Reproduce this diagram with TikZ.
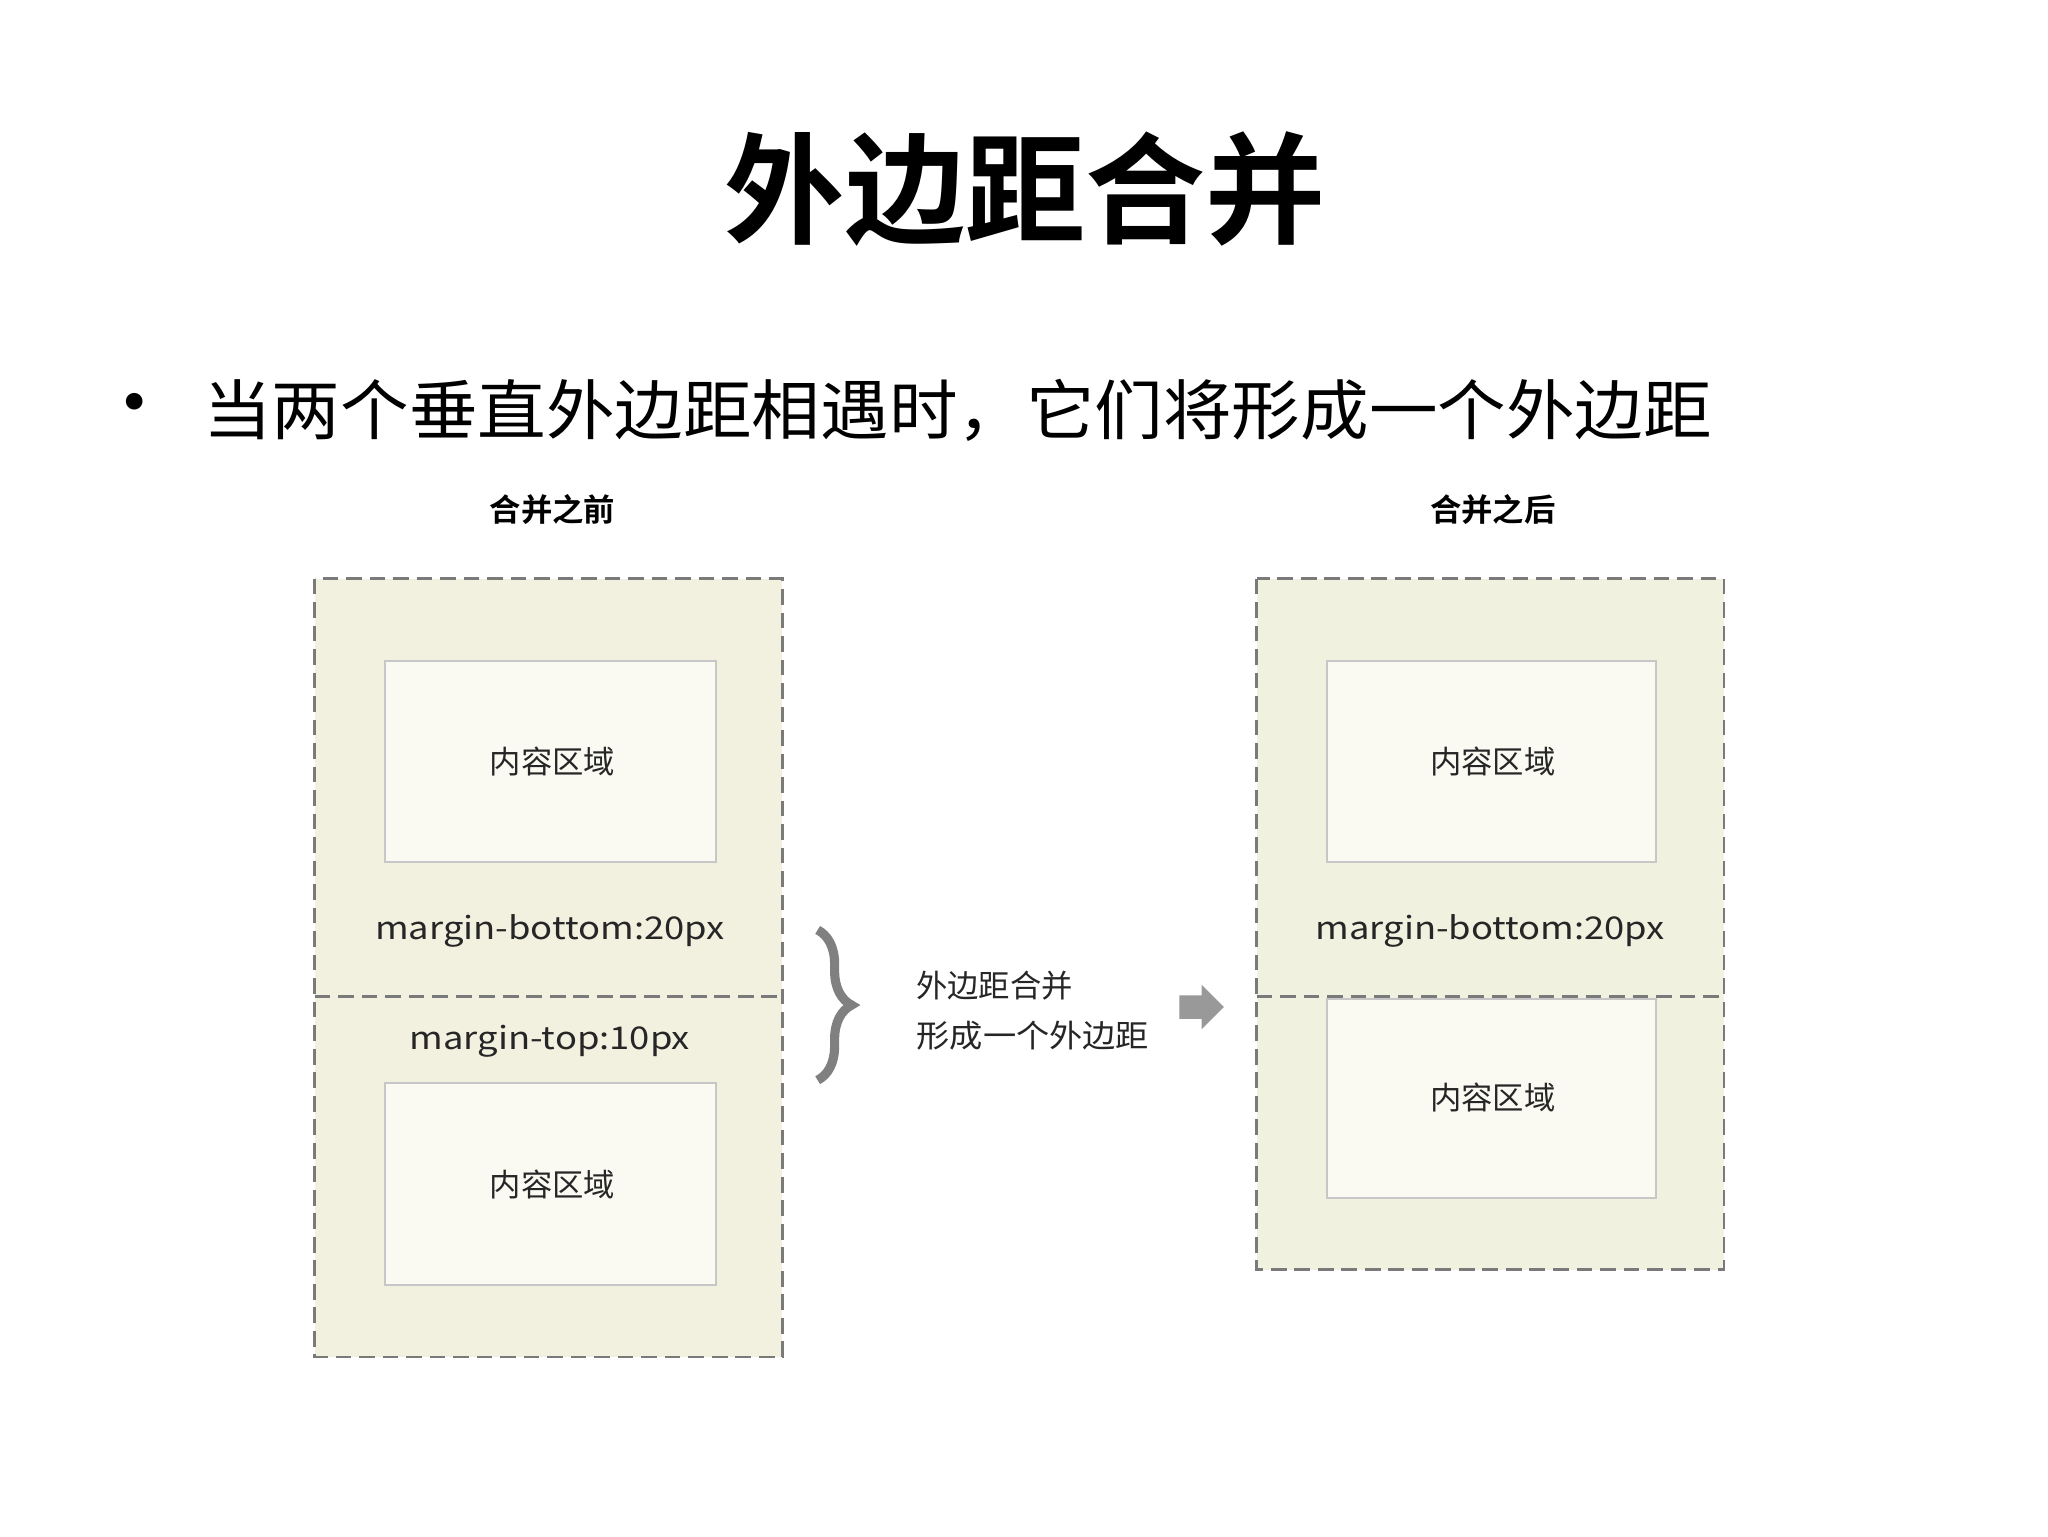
\documentclass[tikz,border=0pt]{standalone}
\usepackage{fontspec}
\setmainfont{Noto Sans CJK SC}
\newfontfamily\cjkb{Noto Sans CJK SC Bold}
\usetikzlibrary{decorations.pathreplacing,arrows.meta}
\definecolor{outerfill}{HTML}{F2F0DF}
\definecolor{outerfillR}{HTML}{F0F1DE}
\definecolor{innerfill}{HTML}{FAFAF3}
\definecolor{dash}{HTML}{7A7A7A}
\tikzset{
 outerbox/.style={draw=dash,line width=2pt,dash pattern=on 12pt off 6pt,fill=outerfill},
 divline/.style={draw=dash,line width=2pt,dash pattern=on 12pt off 6pt},
 innerbox/.style={draw=black!22,line width=1.6pt,fill=innerfill},
 lbl/.style={font=\fontsize{24}{28}\selectfont,text=black!85},
 mlbl/.style={font=\fontsize{24}{28}\selectfont,text=black!85,xscale=1.16},
 head/.style={font=\cjkb\fontsize{24}{28}\selectfont},
}
\begin{document}
\begin{tikzpicture}[x=1pt,y=-1pt]
\useasboundingbox[fill=white] (0,0) rectangle (1568,1176);
\node (title) at (785,145) {\cjkb\fontsize{92}{100}\selectfont 外边距合并};
\node (bul) at (103,316) {\fontsize{60}{64}\selectfont •};
\node[anchor=west,xscale=1.05] (sub) at (152,314) {\fontsize{50}{56}\selectfont 当两个垂直外边距相遇时，它们将形成一个外边距};
\node[head] (h1) at (423,390) {合并之前};
\node[head] (h2) at (1143,390) {合并之后};
% left
\path[outerbox] (241,443) rectangle (599,1039);
\draw[divline] (241,763) -- (599,763);
\path[innerbox] (295,506) rectangle (548,660);
\path[innerbox] (295,829) rectangle (548,984);
\node[lbl] (c1) at (423,583) {内容区域};
\node[lbl] (c2) at (423,907) {内容区域};
\node[mlbl] (mb1) at (421,713) {margin-bottom:20px};
\node[mlbl] (mt1) at (421,797) {margin-top:10px};
% brace
\draw[black!50,line width=7pt,decorate,decoration={brace,amplitude=26pt,aspect=0.5}] (626,712) -- (626,827);
\node[lbl,anchor=west] (m1) at (698,755) {外边距合并};
\node[lbl,anchor=west,xscale=1.06] (m2) at (698,793) {形成一个外边距};
\fill[black!40] (903,762) -- (920,762) -- (920,754) -- (937,771) -- (920,788) -- (920,780) -- (903,780) -- cycle;
% right
\path[outerbox,fill=outerfillR] (962,443) rectangle (1320,972);
\draw[divline] (962,763) -- (1320,763);
\path[innerbox] (1016,506) rectangle (1268,660);
\path[innerbox] (1016,765) rectangle (1268,917);
\node[lbl] (c3) at (1143,583) {内容区域};
\node[mlbl] (mb2) at (1141,713) {margin-bottom:20px};
\node[lbl] (c4) at (1143,840) {内容区域};
\end{tikzpicture}
\end{document}
